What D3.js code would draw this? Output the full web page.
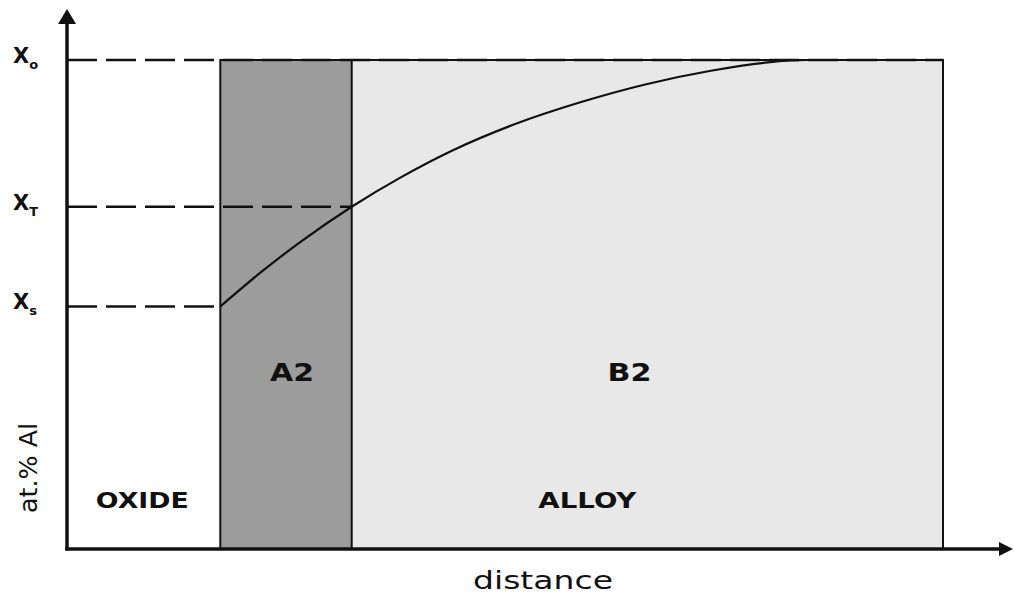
<!DOCTYPE html>
<html>
<head>
<meta charset="utf-8">
<script src="https://cdn.jsdelivr.net/npm/d3@7"></script>
<style>
html,body{margin:0;padding:0;background:#fff;}
svg{display:block;}
</style>
</head>
<body>
<svg id="chart" width="1014" height="597"></svg>
<script>
// ---- data ----
const regionNames = ["OXIDE", "A2", "B2"];
const regionStart = [0, 17.5, 32.5];
const regionEnd = [17.5, 32.5, 100];
const regionFill = ["#ffffff", "#9c9c9c", "#e8e8e8"];
const phaseLabels = ["A2", "B2"];
const phaseCenters = [25.7, 64.2];
const zoneLabels = ["OXIDE", "ALLOY"];
const zoneCenters = [8.6, 59.4];
const levelNames = ["o", "T", "s"];
const levelValues = [100, 70.0, 49.6];
const levelEnds = [100, 32.5, 17.5];
const profileDistance = [17.5, 22.0, 26.5, 32.5, 38.0, 44.0, 51.0, 58.5, 66.0, 73.5, 80.0, 84.5, 100];
const profileAl = [49.6, 56.4, 62.6, 70.0, 75.9, 81.5, 86.8, 91.3, 95.0, 97.8, 99.5, 100, 100];
const xTitle = "distance";
const yTitle = "at.% Al";

// ---- layout ----
const svg = d3.select("#chart");
const x = d3.scaleLinear().domain([0, 100]).range([67, 943]);
const y = d3.scaleLinear().domain([0, 100]).range([549, 60]);
const ink = "#111";
const font = "DejaVu Sans, Verdana, sans-serif";

// regions
svg.append("g").selectAll("rect").data(regionNames).join("rect")
  .attr("x", (d, i) => x(regionStart[i]))
  .attr("y", y(100))
  .attr("width", (d, i) => x(regionEnd[i]) - x(regionStart[i]))
  .attr("height", y(0) - y(100))
  .attr("fill", (d, i) => regionFill[i]);

// box borders (from oxide interface onwards)
const bx0 = x(regionStart[1]), bx1 = x(100);
svg.append("rect").attr("x", bx0).attr("y", y(100))
  .attr("width", bx1 - bx0).attr("height", y(0) - y(100))
  .attr("fill", "none").attr("stroke", ink).attr("stroke-width", 2);
svg.append("line").attr("x1", x(regionStart[2])).attr("x2", x(regionStart[2]))
  .attr("y1", y(100)).attr("y2", y(0)).attr("stroke", ink).attr("stroke-width", 2);

// dashed level lines
svg.append("g").selectAll("line").data(levelNames).join("line")
  .attr("x1", x(0)).attr("x2", (d, i) => x(levelEnds[i]))
  .attr("y1", (d, i) => y(levelValues[i])).attr("y2", (d, i) => y(levelValues[i]))
  .attr("stroke", ink).attr("stroke-width", 2.6)
  .attr("stroke-dasharray", "30,9");

// concentration profile
const line = d3.line().x(d => x(d[0])).y(d => y(d[1])).curve(d3.curveMonotoneX);
svg.append("path")
  .datum(profileDistance.map((d, i) => [d, profileAl[i]]))
  .attr("d", line).attr("fill", "none").attr("stroke", ink).attr("stroke-width", 2.2);

// axes
svg.append("line").attr("x1", x(0)).attr("x2", x(0)).attr("y1", y(0) + 1.5).attr("y2", 20)
  .attr("stroke", ink).attr("stroke-width", 3.5);
svg.append("line").attr("x1", x(0) - 1.75).attr("x2", 1003).attr("y1", y(0)).attr("y2", y(0))
  .attr("stroke", ink).attr("stroke-width", 3.5);
svg.append("path").attr("d", `M${x(0)},9 L${x(0) - 9},24 L${x(0) + 9},24 Z`).attr("fill", ink);
svg.append("path").attr("d", `M1013,${y(0)} L999,${y(0) - 7} L999,${y(0) + 7} Z`).attr("fill", ink);

// level labels
const lab = svg.append("g").attr("font-family", font).attr("fill", ink);
levelNames.forEach((n, i) => {
  const t = lab.append("text").attr("x", 13).attr("y", y(levelValues[i]) + 3)
    .attr("font-size", 21).attr("font-weight", "bold");
  t.append("tspan").text("X");
  t.append("tspan").attr("font-size", 13).attr("dy", 6).attr("dx", 0).text(n);
});

// phase labels
lab.selectAll("text.phase").data(phaseLabels).join("text").attr("class", "phase")
  .attr("x", (d, i) => x(phaseCenters[i])).attr("y", 381)
  .attr("text-anchor", "middle").attr("font-size", 24).attr("font-weight", "bold")
  .attr("textLength", 44).attr("lengthAdjust", "spacingAndGlyphs")
  .text(d => d);

lab.selectAll("text.zone").data(zoneLabels).join("text").attr("class", "zone")
  .attr("x", (d, i) => x(zoneCenters[i])).attr("y", 508)
  .attr("text-anchor", "middle").attr("font-size", 22).attr("font-weight", "bold")
  .attr("textLength", (d, i) => i === 0 ? 93 : 98).attr("lengthAdjust", "spacingAndGlyphs")
  .text(d => d);

// axis titles
lab.append("text").attr("x", 543).attr("y", 589).attr("text-anchor", "middle")
  .attr("font-size", 25).attr("textLength", 140).attr("lengthAdjust", "spacingAndGlyphs")
  .text(xTitle);
lab.append("text").attr("transform", "translate(37,468) rotate(-90)")
  .attr("text-anchor", "middle").attr("font-size", 24)
  .attr("textLength", 90).attr("lengthAdjust", "spacingAndGlyphs")
  .text(yTitle);
</script>
</body>
</html>
